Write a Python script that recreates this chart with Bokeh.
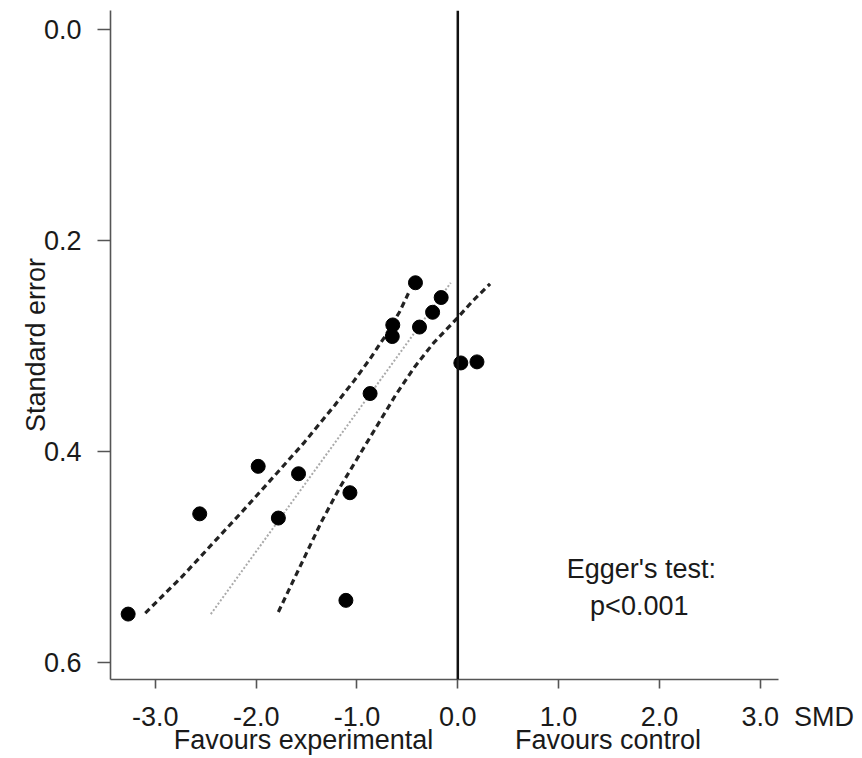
from bokeh.plotting import figure
from bokeh.models import Range1d, FixedTicker, Span, Label, LinearAxis
from bokeh.embed import file_html
from bokeh.resources import INLINE

# ---- data ----
smd = [-3.27, -2.56, -1.98, -1.78, -1.58, -1.07, -1.11, -0.87,
       -0.65, -0.645, -0.42, -0.38, -0.25, -0.165, 0.03, 0.19]
se = [0.554, 0.459, 0.414, 0.463, 0.421, 0.439, 0.541, 0.345,
      0.291, 0.280, 0.240, 0.282, 0.268, 0.254, 0.316, 0.315]

# Egger regression line (dotted) and its confidence band (dashed)
egger_smd = [-2.45, -0.07]
egger_se = [0.554, 0.240]

ci_left_smd = [-3.10, -2.74, -2.44, -2.13, -1.80, -1.52, -1.22, -1.03, -0.87, -0.73, -0.58, -0.49]
ci_left_se = [0.553, 0.519, 0.488, 0.456, 0.421, 0.391, 0.356, 0.333, 0.312, 0.292, 0.268, 0.250]

ci_right_smd = [-1.78, -1.63, -1.49, -1.35, -1.17, -1.00, -0.81, -0.62, -0.43, -0.24, 0.00, 0.15, 0.32]
ci_right_se = [0.552, 0.522, 0.494, 0.466, 0.434, 0.407, 0.377, 0.347, 0.320, 0.297, 0.273, 0.257, 0.241]

x_ticks = [-3, -2, -1, 0, 1, 2, 3]
x_tick_labels = ["-3.0", "-2.0", "-1.0", "0.0", "1.0", "2.0", "3.0"]
x_unit = "SMD"
y_ticks = [0.0, 0.2, 0.4, 0.6]
y_tick_labels = ["0.0", "0.2", "0.4", "0.6"]
y_title = "Standard error"
side_labels = ["Favours experimental", "Favours control"]
side_label_pos = [-1.53, 1.49]

FONT = "Liberation Sans"
TXT = "#1a1a1a"
AX = "#555555"
NB = "\u00a0"

p = figure(width=860, height=758, output_backend="svg", toolbar_location=None,
           x_range=Range1d(-3.445, 3.181), y_range=Range1d(0.616, -0.018),
           min_border_left=110, min_border_right=82, min_border_top=10, min_border_bottom=79)
p.background_fill_color = "white"
p.border_fill_color = "white"
p.outline_line_color = None
p.grid.visible = False

# secondary (label-only) axis below the main one
side_axis = LinearAxis(ticker=FixedTicker(ticks=side_label_pos))
p.add_layout(side_axis, "below")

for ax in (p.xaxis[0], p.yaxis[0], side_axis):
    ax.axis_line_color = AX
    ax.axis_line_width = 1.6
    ax.major_tick_line_color = AX
    ax.major_tick_line_width = 1.6
    ax.major_tick_in = 0
    ax.minor_tick_line_color = None
    ax.major_label_text_font = FONT
    ax.major_label_text_font_size = "27px"
    ax.major_label_text_color = TXT

main_x = p.xaxis[0]
main_x.ticker = FixedTicker(ticks=x_ticks)
overrides = {t: l for t, l in zip(x_ticks, x_tick_labels)}
# unit name sits to the right of the last tick label
overrides[x_ticks[-1]] = NB * 10 + x_tick_labels[-1] + NB * 2 + x_unit
main_x.major_label_overrides = overrides
main_x.major_tick_out = 9
main_x.major_label_standoff = 13

side_axis.axis_line_color = None
side_axis.major_tick_line_color = None
side_axis.major_tick_out = 0
side_axis.major_label_standoff = -10
side_axis.major_label_overrides = {t: l for t, l in zip(side_label_pos, side_labels)}

p.yaxis.ticker = FixedTicker(ticks=y_ticks)
p.yaxis.major_label_overrides = {t: l for t, l in zip(y_ticks, y_tick_labels)}
p.yaxis.major_tick_out = 13
p.yaxis.major_label_standoff = 16
p.yaxis.axis_label = y_title
p.yaxis.axis_label_text_font = FONT
p.yaxis.axis_label_text_font_size = "27px"
p.yaxis.axis_label_text_font_style = "normal"
p.yaxis.axis_label_text_color = TXT
p.yaxis.axis_label_standoff = -10

# zero line
p.add_layout(Span(location=0, dimension="height", line_color="#111111", line_width=2.5))

# regression line and band
p.line(egger_smd, egger_se, line_color="#aaaaaa", line_width=2, line_dash="2 2")
p.line(ci_left_smd, ci_left_se, line_color="#222222", line_width=3.2, line_dash="6 4")
p.line(ci_right_smd, ci_right_se, line_color="#222222", line_width=3.2, line_dash="6 4")

# studies
p.scatter(smd, se, size=14, fill_color="black", line_color="black", marker="circle")

# Egger's test annotation
for txt, x, y in [("Egger's test:", 1.82, 0.511), ("p<0.001", 1.80, 0.546)]:
    p.add_layout(Label(x=x, y=y, text=txt, text_font=FONT, text_font_size="27px",
                       text_color=TXT, text_align="center", text_baseline="middle"))

open("out.html", "w").write(file_html(p, INLINE))
